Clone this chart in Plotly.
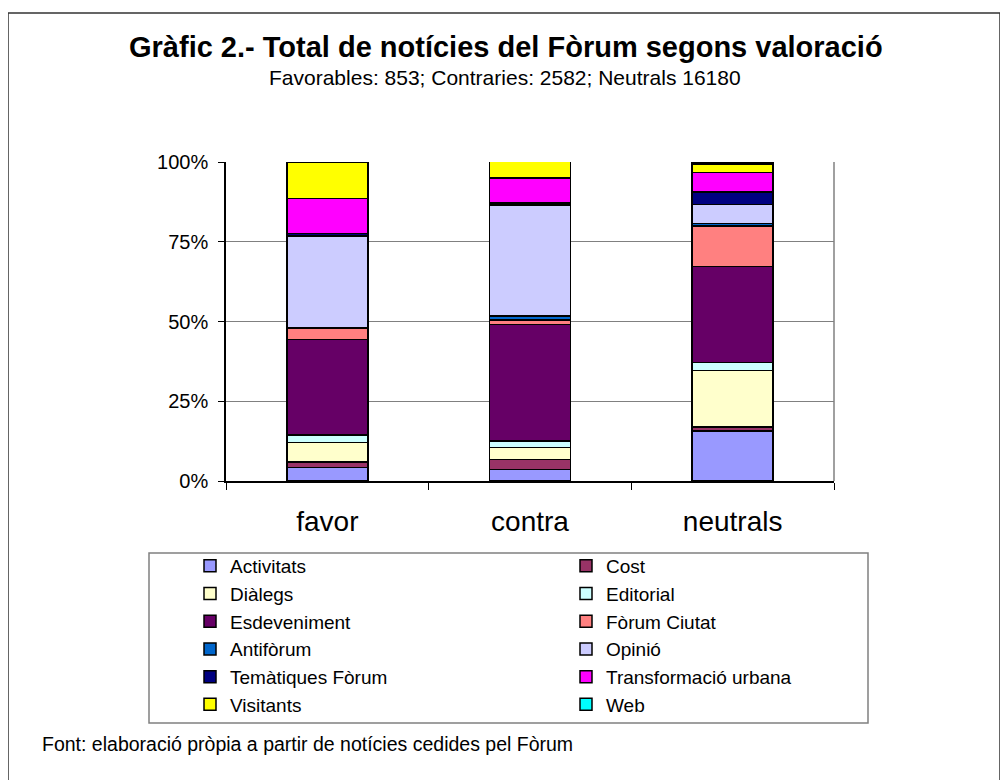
import plotly.graph_objects as go

categories = ["favor", "contra", "neutrals"]

series_names = [
    "Activitats", "Cost", "Diàlegs", "Editorial", "Esdeveniment", "Fòrum Ciutat",
    "Antifòrum", "Opinió", "Temàtiques Fòrum", "Transformació urbana", "Visitants", "Web",
]

# share of news items (%) per category: favor, contra, neutrals
activitats = [4.2, 3.6, 15.6]
cost = [1.8, 3.2, 1.4]
dialegs = [6.0, 3.7, 17.6]
editorial = [2.4, 2.0, 2.5]
esdeveniment = [29.9, 36.5, 30.2]
forum_ciutat = [3.7, 1.4, 12.6]
antiforum = [None, 1.3, 0.8]
opinio = [28.8, 34.8, 6.0]
tematiques = [0.8, 0.6, 3.9]
transformacio = [11.0, 7.9, 6.1]
visitants = [11.4, 5.1, 2.7]
web = [None, None, 0.4]

series_values = [activitats, cost, dialegs, editorial, esdeveniment, forum_ciutat,
                 antiforum, opinio, tematiques, transformacio, visitants, web]

colors = ["#9999FF", "#993366", "#FFFFCC", "#CCFFFF", "#660066", "#FF8080",
          "#0066CC", "#CCCCFF", "#000080", "#FF00FF", "#FFFF00", "#00FFFF"]

y_ticks = [0, 25, 50, 75, 100]
y_ticktext = ["0%", "25%", "50%", "75%", "100%"]

title_text = "Gràfic 2.- Total de notícies del Fòrum segons valoració"
subtitle_text = "Favorables: 853; Contraries: 2582; Neutrals 16180"
footer_text = "Font: elaboració pròpia a partir de notícies cedides pel Fòrum"

FONT = "Liberation Sans, Arial, sans-serif"

OFF = 8  # page body margin
W, H = 1008, 780
L, T = 226 - OFF, 162 - OFF
R = W - (834 - OFF)
B = H - (481 - OFF)
PW, PH = W - L - R, H - T - B


def px(x):
    return (x - OFF - L) / PW


def py(y):
    return (H - B - (y - OFF)) / PH


fig = go.Figure()
for i, (name, vals, col) in enumerate(zip(series_names, series_values, colors)):
    fig.add_trace(go.Bar(
        x=categories, y=vals, name=name,
        marker=dict(color=col, line=dict(color="#000000", width=1.5)),
        legend="legend" if i % 2 == 0 else "legend2",
        hoverinfo="skip",
    ))

leg_common = dict(
    font=dict(family=FONT, size=19, color="#000000"),
    bgcolor="rgba(0,0,0,0)", borderwidth=0, traceorder="normal",
    orientation="v", xanchor="left", yanchor="top", tracegroupgap=0,
    itemclick=False, itemdoubleclick=False,
)

fig.update_layout(
    width=W, height=H, autosize=False,
    margin=dict(l=L, r=R, t=T, b=B, pad=0),
    paper_bgcolor="#FFFFFF", plot_bgcolor="#FFFFFF",
    barmode="stack", bargap=0.6,
    font=dict(family=FONT, color="#000000"),
    showlegend=True,
    legend=dict(x=px(190), y=py(547), **leg_common),
    legend2=dict(x=px(566), y=py(547), **leg_common),
    xaxis=dict(
        type="category", range=[-0.5, 2.5],
        showline=True, linecolor="#000000", linewidth=1.5,
        ticks="outside", tickson="boundaries", ticklen=7, tickcolor="#000000",
        tickfont=dict(family=FONT, size=28, color="#000000"),
        ticklabelstandoff=15, showgrid=False, zeroline=False, fixedrange=True,
    ),
    yaxis=dict(
        range=[0, 100], tickvals=y_ticks, ticktext=y_ticktext,
        showline=True, linecolor="#000000", linewidth=1.5,
        ticks="outside", ticklen=6, tickcolor="#000000",
        tickfont=dict(family=FONT, size=20, color="#000000"),
        ticklabelstandoff=6,
        showgrid=True, gridcolor="#808080", gridwidth=1, zeroline=False, fixedrange=True,
    ),
    shapes=[
        # right edge of plot area
        dict(type="line", xref="paper", yref="paper", x0=1, x1=1, y0=0, y1=1,
             line=dict(color="#808080", width=1.5), layer="below"),
        # legend frame
        dict(type="rect", xref="paper", yref="paper",
             x0=px(149), x1=px(868), y0=py(723), y1=py(553),
             line=dict(color="#808080", width=1.5)),
        # outer chart frame
        dict(type="rect", xref="paper", yref="paper",
             x0=px(8), x1=px(1000), y0=py(800), y1=py(13),
             line=dict(color="#333333", width=1.5)),
    ],
    annotations=[
        dict(text="<b>" + title_text + "</b>", xref="paper", yref="paper",
             x=px(506), y=py(47), xanchor="center", yanchor="middle", showarrow=False,
             font=dict(family=FONT, size=29, color="#000000")),
        dict(text=subtitle_text, xref="paper", yref="paper",
             x=px(505), y=py(78), xanchor="center", yanchor="middle", showarrow=False,
             font=dict(family=FONT, size=21, color="#000000")),
        dict(text=footer_text, xref="paper", yref="paper",
             x=px(40), y=py(744), xanchor="left", yanchor="middle", showarrow=False,
             font=dict(family=FONT, size=19.5, color="#000000")),
    ],
)

fig.write_html("out.html")
